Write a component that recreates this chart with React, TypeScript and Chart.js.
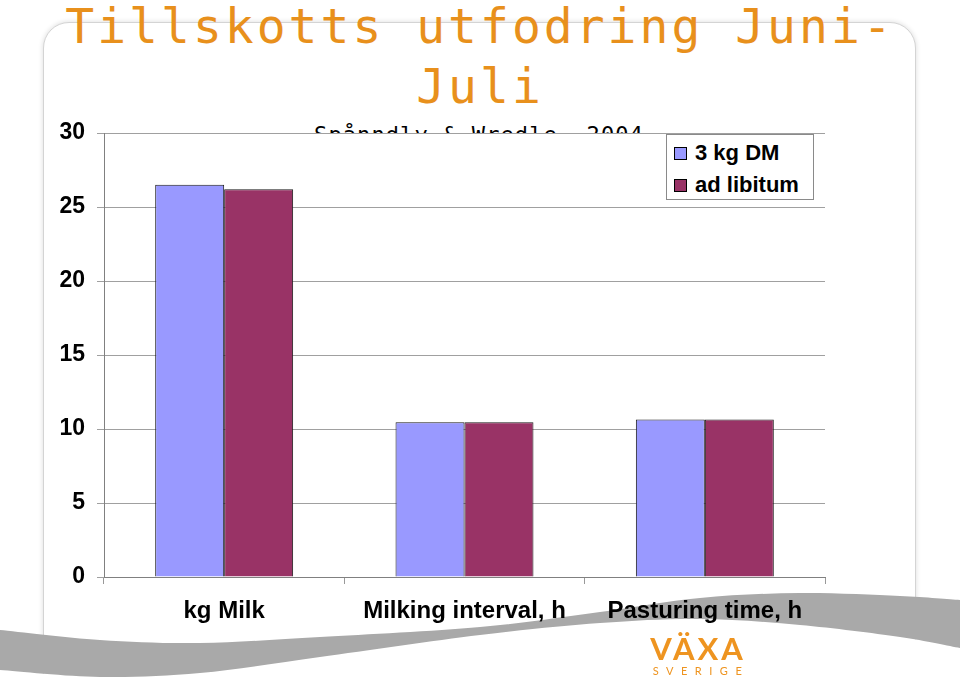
import React, { useEffect, useRef } from "react";
import { Chart, registerables } from "chart.js";

Chart.register(...registerables);

// ---- data ----
const categories = ["kg Milk", "Milking interval, h", "Pasturing time, h"];
const series3kgDM = [26.5, 10.45, 10.65];
const seriesAdLibitum = [26.2, 10.45, 10.65];
const seriesNames = ["3 kg DM", "ad libitum"];
const seriesColors = ["#9999FF", "#993366"];
const yTickValues = [0, 5, 10, 15, 20, 25, 30];
const titleLines = ["Tillskotts utfodring Juni-", "Juli"];
const subtitleText = "Spånndly & Wredle, 2004";
const logoWord = "VÄXA";
const logoSub = "SVERIGE";

// decorative swoosh outline (slide background art)
const swooshUpper: [number, number][] = [
  [0, 630], [100, 640], [200, 643], [320, 637], [480, 627], [600, 612], [700, 598], [800, 593], [900, 596], [960, 600],
];
const swooshLower: [number, number][] = [
  [0, 670], [100, 677], [200, 673], [320, 657], [480, 635], [600, 623], [700, 619], [800, 625], [900, 637], [960, 648],
];

function smoothPath(pts: [number, number][], moveFirst: boolean): string {
  let d = moveFirst ? `M${pts[0][0]},${pts[0][1]}` : `L${pts[0][0]},${pts[0][1]}`;
  for (let i = 0; i < pts.length - 1; i++) {
    const p0 = pts[i - 1] || pts[i];
    const p1 = pts[i];
    const p2 = pts[i + 1];
    const p3 = pts[i + 2] || p2;
    const c1x = p1[0] + (p2[0] - p0[0]) / 6;
    const c1y = p1[1] + (p2[1] - p0[1]) / 6;
    const c2x = p2[0] - (p3[0] - p1[0]) / 6;
    const c2y = p2[1] - (p3[1] - p1[1]) / 6;
    d += ` C${c1x},${c1y} ${c2x},${c2y} ${p2[0]},${p2[1]}`;
  }
  return d;
}

const TITLE_COLOR = "#E8901C";
const AXIS_FONT = "'Liberation Sans', Arial, sans-serif";

export default function App() {
  const canvasRef = useRef<HTMLCanvasElement | null>(null);

  useEffect(() => {
    if (!canvasRef.current) return;
    const chart = new Chart(canvasRef.current, {
      type: "bar",
      data: {
        labels: categories,
        datasets: [
          {
            label: seriesNames[0],
            data: series3kgDM,
            backgroundColor: seriesColors[0],
            borderColor: "#1a1a1a",
            borderWidth: 1,
            categoryPercentage: 0.574,
            barPercentage: 1.0,
          },
          {
            label: seriesNames[1],
            data: seriesAdLibitum,
            backgroundColor: seriesColors[1],
            borderColor: "#1a1a1a",
            borderWidth: 1,
            categoryPercentage: 0.574,
            barPercentage: 1.0,
          },
        ],
      },
      options: {
        responsive: false,
        animation: false,
        devicePixelRatio: 1,
        layout: { padding: { left: 30, right: 135, top: 133, bottom: 0 } },
        plugins: {
          legend: { display: false },
          tooltip: { enabled: false },
          title: { display: false },
        },
        scales: {
          x: {
            type: "category",
            grid: {
              display: true,
              drawOnChartArea: false,
              drawTicks: true,
              tickLength: 7,
              color: "#999999",
              offset: true,
            },
            border: { display: true, color: "#808080", width: 1 },
            ticks: {
              color: "#000000",
              padding: 13,
              maxRotation: 0,
              autoSkip: false,
              font: { family: AXIS_FONT, size: 24, weight: "bold" },
            },
            afterFit: (scale: any) => {
              scale.height = 107;
            },
          },
          y: {
            min: 0,
            max: 30,
            grid: {
              display: true,
              drawOnChartArea: true,
              drawTicks: true,
              tickLength: 7,
              color: "#a0a0a0",
              lineWidth: 1,
            },
            border: { display: true, color: "#808080", width: 1 },
            ticks: {
              color: "#000000",
              padding: 12,
              font: { family: AXIS_FONT, size: 23, weight: "bold" },
            },
            afterBuildTicks: (scale: any) => {
              scale.ticks = yTickValues.map((v) => ({ value: v }));
            },
            afterFit: (scale: any) => {
              scale.width = 74;
            },
          },
        },
      },
    });
    return () => chart.destroy();
  }, []);

  const bandPath =
    smoothPath(swooshUpper, true) +
    " " +
    smoothPath([...swooshLower].reverse() as [number, number][], false) +
    " Z";
  const whitePath =
    smoothPath(swooshLower, true) + " L960,684 L0,684 Z";

  return (
    <div
      style={{
        position: "absolute",
        left: 0,
        top: 0,
        width: 960,
        height: 684,
        overflow: "hidden",
        background: "#ffffff",
      }}
    >
      {/* card */}
      <div
        style={{
          position: "absolute",
          left: 43,
          top: 22,
          width: 873,
          height: 720,
          boxSizing: "border-box",
          border: "1px solid #d4d4d4",
          borderRadius: 26,
          boxShadow: "0 0 4px 1px rgba(0,0,0,0.10)",
          background: "#ffffff",
        }}
      />
      {/* subtitle, partly hidden behind the plot */}
      <div
        style={{
          position: "absolute",
          left: 0,
          top: 0,
          width: 960,
          height: 133,
          overflow: "hidden",
        }}
      >
        <div
          style={{
            position: "absolute",
            left: 0,
            top: 122,
            width: 958,
            textAlign: "center",
            fontFamily: "'DejaVu Sans Mono', monospace",
            fontSize: 22,
            lineHeight: "26px",
            letterSpacing: 1.1,
            color: "#000000",
            whiteSpace: "nowrap",
          }}
        >
          {subtitleText}
        </div>
      </div>
      {/* title */}
      <div
        style={{
          position: "absolute",
          left: 0,
          top: -4,
          width: 960,
          textAlign: "center",
          fontFamily: "'DejaVu Sans Mono', monospace",
          fontSize: 48,
          lineHeight: "60px",
          letterSpacing: 3,
          color: TITLE_COLOR,
          whiteSpace: "nowrap",
        }}
      >
        {titleLines.map((l, i) => (
          <div key={i}>{l}</div>
        ))}
      </div>
      {/* swoosh */}
      <svg
        width={960}
        height={684}
        style={{ position: "absolute", left: 0, top: 0 }}
      >
        <path d={whitePath} fill="#ffffff" />
        <path d={bandPath} fill="#a9a9a9" />
      </svg>
      {/* chart */}
      <canvas
        ref={canvasRef}
        width={960}
        height={684}
        style={{ position: "absolute", left: 0, top: 0, width: 960, height: 684 }}
      />
      {/* legend */}
      <div
        style={{
          position: "absolute",
          left: 666,
          top: 134,
          width: 148,
          height: 66,
          boxSizing: "border-box",
          border: "1px solid #8a8a8a",
          background: "#ffffff",
          fontFamily: AXIS_FONT,
          fontWeight: "bold",
          fontSize: 22,
          color: "#000",
        }}
      >
        {seriesNames.map((n, i) => (
          <div
            key={n}
            style={{
              position: "absolute",
              left: 7,
              top: 4 + i * 32,
              height: 28,
              display: "flex",
              alignItems: "center",
              whiteSpace: "nowrap",
            }}
          >
            <span
              style={{
                display: "inline-block",
                width: 13,
                height: 13,
                boxSizing: "border-box",
                border: "1px solid #000",
                background: seriesColors[i],
                marginRight: 8,
              }}
            />
            <span>{n}</span>
          </div>
        ))}
      </div>
      {/* logo */}
      <div
        style={{
          position: "absolute",
          left: 646,
          top: 630,
          width: 104,
          textAlign: "center",
          color: "#EE9420",
          fontFamily: "Lato, 'Open Sans', sans-serif",
        }}
      >
        <div style={{ fontSize: 31, fontWeight: 700, lineHeight: "36px", letterSpacing: 3 }}>
          {logoWord}
        </div>
        <div
          style={{
            fontSize: 11,
            lineHeight: "12px",
            letterSpacing: 7.5,
            marginTop: -1,
            marginLeft: 6,
          }}
        >
          {logoSub}
        </div>
      </div>
    </div>
  );
}
